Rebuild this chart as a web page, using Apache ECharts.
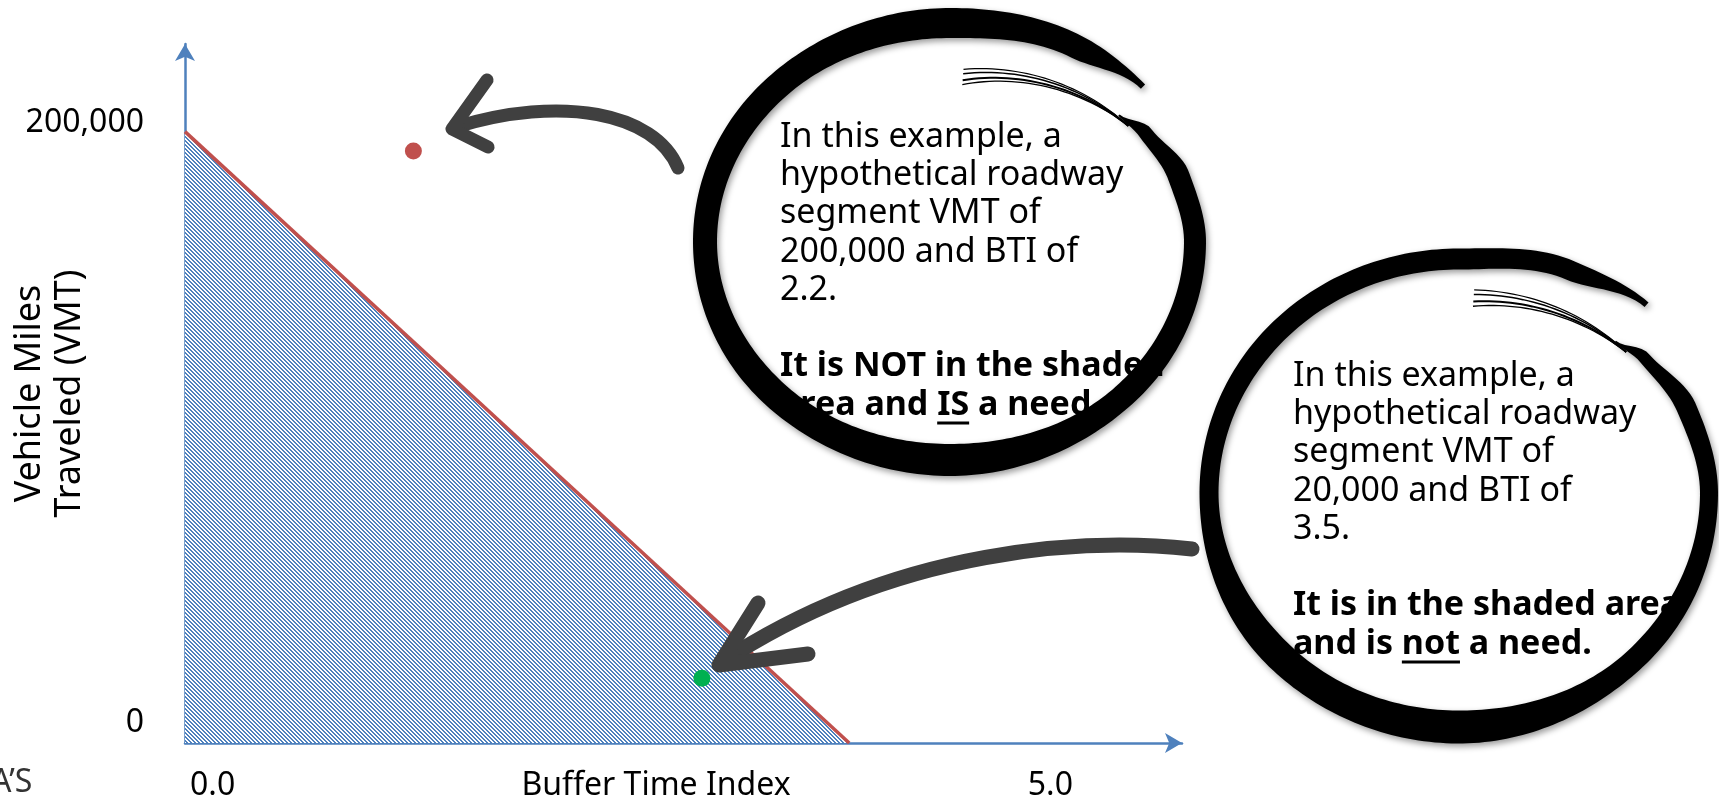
<!DOCTYPE html>
<html><head><meta charset="utf-8">
<script src="https://cdn.jsdelivr.net/npm/echarts@6/dist/echarts.min.js"></script>
<style>html,body{margin:0;padding:0;background:#fff;overflow:hidden}#c{width:1719px;height:801px}</style>
</head><body><div id="c"></div>
<script>
// ---------- data ----------
const xTickValues = [0, 5];
const yTickValues = [0, 200000];
const xAxisName = 'Buffer Time Index';
const yAxisName = 'Vehicle Miles\nTraveled (VMT)';
const thresholdBTI = [0, 3.964];
const thresholdVMT = [203800, 0];
const needPointBTI = [1.363];
const needPointVMT = [197300];
const okPointBTI = [3.085];
const okPointVMT = [21570];
const callout1Text = [
  [['In this example, a', '']],
  [['hypothetical roadway', '']],
  [['segment VMT of', '']],
  [['200,000 and BTI of', '']],
  [['2.2.', '']],
  [],
  [['It is NOT in the shaded', 'b']],
  [['area and ', 'b'], ['IS', 'bu'], [' a need.', 'b']]
];
const callout2Text = [
  [['In this example, a', '']],
  [['hypothetical roadway', '']],
  [['segment VMT of', '']],
  [['20,000 and BTI of', '']],
  [['3.5.', '']],
  [],
  [['It is in the shaded area', 'b']],
  [['and is ', 'b'], ['not', 'bu'], [' a need.', 'b']]
];
const cornerText = 'A\u2019S';

// ---------- helpers ----------
const FONT = 'Noto Sans';
const pc = document.createElement('canvas'); pc.width = 4; pc.height = 4;
const pctx = pc.getContext('2d');
pctx.fillStyle = '#fff'; pctx.fillRect(0, 0, 4, 4);
pctx.fillStyle = '#4F81BD';
for (let y = 0; y < 4; y++) for (let x = 0; x < 4; x++) if ((((x - y) % 4) + 4) % 4 < 2) pctx.fillRect(x, y, 1, 1);

const mctx = document.createElement('canvas').getContext('2d');
function measure(t, bold, size) { mctx.font = (bold ? 'bold ' : '') + size + 'px "' + FONT + '"'; return mctx.measureText(t).width; }

function interpKeys(keys, a) {
  let k = 0; while (k < keys.length - 2 && a > keys[k + 1][0]) k++;
  const A = keys[k], B = keys[k + 1];
  let f = (a - A[0]) / (B[0] - A[0]); f = Math.max(0, Math.min(1, f));
  const s = f * f * (3 - 2 * f);
  return [A[1] + (B[1] - A[1]) * s, A[2] + (B[2] - A[2]) * s];
}
function ringPoly(cx, cy, rx, ry, keys, steps) {
  const outer = [], inner = [];
  const a0 = keys[0][0], a1 = keys[keys.length - 1][0];
  for (let i = 0; i <= steps; i++) {
    const a = a0 + (a1 - a0) * i / steps;
    const [r, w] = interpKeys(keys, a);
    const rad = a * Math.PI / 180, c = Math.cos(rad), s = Math.sin(rad);
    const mx = cx + rx * r * c, my = cy + ry * r * s;
    let nx = c / rx, ny = s / ry; const nl = Math.hypot(nx, ny); nx /= nl; ny /= nl;
    outer.push([mx + nx * w / 2, my + ny * w / 2]);
    inner.push([mx - nx * w / 2, my - ny * w / 2]);
  }
  return outer.concat(inner.reverse());
}
function hairs(cx, cy, rx, ry, aStart, aEnd, rStart, rEnd, offs) {
  return offs.map(o => {
    const pts = [];
    for (let i = 0; i <= 30; i++) {
      const t = i / 30, a = (aStart + (aEnd - aStart) * t) * Math.PI / 180;
      const r = rStart + (rEnd - rStart) * t + o[0] * (1 - t);
      pts.push([cx + rx * r * Math.cos(a), cy + ry * r * Math.sin(a)]);
    }
    return { type: 'polyline', z: 100, shape: { points: pts }, style: { stroke: '#000', lineWidth: o[1], fill: null } };
  });
}
const ringShadow = { shadowBlur: 6, shadowColor: 'rgba(0,0,0,0.4)', shadowOffsetX: 2, shadowOffsetY: 3 };

function calloutElements(lines, x0, base0, lh, size) {
  const els = [];
  lines.forEach((segs, i) => {
    let x = x0; const base = base0 + i * lh;
    segs.forEach(([t, st]) => {
      const bold = st.indexOf('b') >= 0;
      els.push({ type: 'text', z: 110, x: x, y: base - 11, style: { text: t, fontSize: size, fontFamily: FONT, fontWeight: bold ? 'bold' : 'normal', fill: '#000', align: 'left', verticalAlign: 'middle' } });
      const w = measure(t, bold, size);
      if (st.indexOf('u') >= 0) {
        els.push({ type: 'line', z: 110, shape: { x1: x, y1: base + 7, x2: x + w, y2: base + 7 }, style: { stroke: '#000', lineWidth: 3 } });
      }
      x += w;
    });
  });
  return els;
}

const graphics = [];
// brush circle 1
graphics.push({ type: 'polygon', z: 100, shape: { points: ringPoly(950, 241.5, 245, 218.5,
  [[-40, 0.9, 2], [-32, 0.94, 14], [-18, 0.98, 22], [0, 1.0, 22], [45, 1.0, 24], [90, 1.0, 32], [135, 1.0, 28], [180, 1.0, 24], [225, 1.0, 26], [270, 1.0, 30], [300, 1.03, 24], [318, 1.06, 6]], 300) },
  style: Object.assign({ fill: '#000' }, ringShadow) });
graphics.push(...hairs(950, 241.5, 245, 218.5, -86, -36, 0.74, 0.9, [[0, 2], [0.03, 1.5], [-0.02, 1.3], [0.05, 1.2]]));
// brush circle 2
graphics.push({ type: 'polygon', z: 100, shape: { points: ringPoly(1459, 493, 250, 234,
  [[-46, 0.9, 2], [-38, 0.94, 12], [-22, 0.98, 20], [0, 1.0, 18], [45, 1.0, 22], [90, 1.0, 33], [135, 1.0, 30], [180, 1.0, 19], [225, 1.0, 21], [270, 1.0, 21], [295, 1.05, 20], [313, 1.1, 6]], 300) },
  style: Object.assign({ fill: '#000' }, ringShadow) });
graphics.push(...hairs(1459, 493, 250, 234, -86, -42, 0.82, 0.9, [[0, 2], [0.03, 1.5], [-0.02, 1.3], [0.05, 1.2]]));

// arrows
const arrowStyle = { stroke: '#404040', lineWidth: 13, lineCap: 'round', lineJoin: 'round', fill: null };
graphics.push({ type: 'bezierCurve', z: 105, shape: { x1: 678, y1: 168, cpx1: 655, cpy1: 112, cpx2: 560, cpy2: 95, x2: 456, y2: 127 }, style: arrowStyle });
graphics.push({ type: 'polyline', z: 105, shape: { points: [[487, 80], [452, 129], [488, 147]] }, style: arrowStyle });
graphics.push({ type: 'bezierCurve', z: 105, shape: { x1: 1192, y1: 549, cpx1: 1090, cpy1: 538, cpx2: 900, cpy2: 545, x2: 722, y2: 662 }, style: Object.assign({}, arrowStyle, { lineWidth: 15 }) });
graphics.push({ type: 'polyline', z: 105, shape: { points: [[758, 603], [719, 665], [808, 654]] }, style: Object.assign({}, arrowStyle, { lineWidth: 15 }) });

graphics.push(...calloutElements(callout1Text, 780, 148, 38.3, 34));
graphics.push(...calloutElements(callout2Text, 1293, 387, 38.3, 34));
graphics.push({ type: 'text', z: 110, x: -9, y: 783, style: { text: cornerText, fontSize: 32, fontFamily: FONT, fill: '#333', align: 'left', verticalAlign: 'middle' } });

const axisLineStyle = { color: '#4F81BD', width: 2.5 };
const labelFont = { fontSize: 32, fontFamily: FONT, color: '#000' };

const chart = echarts.init(document.getElementById('c'), null, { renderer: 'canvas' });
chart.setOption({
  animation: false,
  backgroundColor: '#fff',
  grid: { left: 185, right: 537, top: 44, bottom: 58, containLabel: false, outerBoundsMode: 'none' },
  xAxis: {
    type: 'value', min: 0, max: 5.95,
    axisLine: { show: true, onZero: false, symbol: ['none', 'arrow'], symbolSize: [15, 17], lineStyle: axisLineStyle },
    axisTick: { show: false }, splitLine: { show: false },
    axisLabel: Object.assign({ customValues: xTickValues, formatter: v => Number(v).toFixed(1), align: 'left', padding: [0, 0, 0, 5], margin: 27, verticalAlign: 'top', showMinLabel: true, showMaxLabel: true }, labelFont),
    name: xAxisName, nameLocation: 'middle', nameGap: 27, nameMoveOverlap: false,
    nameTextStyle: Object.assign({ verticalAlign: 'top', padding: [0, 55, 0, 0] }, labelFont)
  },
  yAxis: {
    type: 'value', min: 0, max: 233000,
    axisLine: { show: true, onZero: false, symbol: ['none', 'arrow'], symbolSize: [15, 17], lineStyle: axisLineStyle },
    axisTick: { show: false }, splitLine: { show: false },
    axisLabel: Object.assign({ customValues: yTickValues, formatter: v => Number(v).toLocaleString('en-US'), margin: 41, verticalAlign: 'bottom', padding: [0, 0, 4, 0], showMinLabel: true, showMaxLabel: true }, labelFont),
    name: yAxisName, nameLocation: 'middle', nameRotate: 90, nameGap: 95, nameMoveOverlap: false,
    nameTextStyle: { fontSize: 36, fontFamily: FONT, color: '#000', lineHeight: 40 }
  },
  series: [
    { type: 'line', data: thresholdBTI.map((x, i) => [x, thresholdVMT[i]]), symbol: 'none', silent: true,
      lineStyle: { color: '#C0504D', width: 3.5 }, itemStyle: { color: '#C0504D' },
      areaStyle: { color: { image: pc, repeat: 'repeat' }, opacity: 1, origin: 'start' }, z: 2 },
    { type: 'scatter', data: needPointBTI.map((x, i) => [x, needPointVMT[i]]), symbolSize: 17, itemStyle: { color: '#C0504D', opacity: 1 }, z: 3 },
    { type: 'scatter', data: okPointBTI.map((x, i) => [x, okPointVMT[i]]), symbolSize: 17, itemStyle: { color: '#00B050', opacity: 1 }, z: 3 }
  ],
  graphic: { elements: graphics }
});
</script>
</body></html>
